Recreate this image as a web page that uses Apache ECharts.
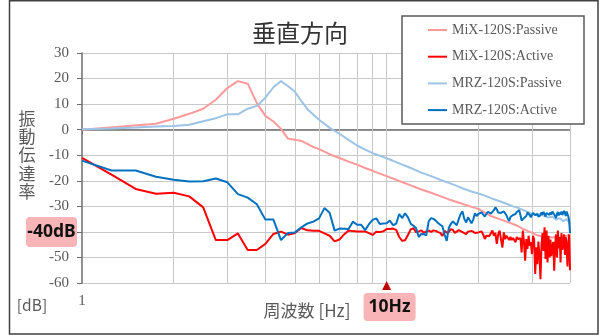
<!DOCTYPE html>
<html>
<head>
<meta charset="utf-8">
<script src="https://cdn.jsdelivr.net/npm/echarts@6/dist/echarts.min.js"></script>
<style>
  html, body { margin: 0; padding: 0; background: #fff; }
  #chart { width: 600px; height: 336px; }
</style>
</head>
<body>
<div id="chart"></div>
<script>
// Vertical gridlines of the logarithmic frequency axis (Hz)
const gridHz = [2, 3, 4, 5, 6, 7, 8, 9, 10, 20, 30, 40];

// MiX-120S passive transmissibility (dB)
const mixPassiveHz = [1, 1.75, 2, 2.25, 2.5, 2.75, 3, 3.25, 3.5, 3.75, 4, 4.25, 4.5, 4.75, 5, 5.25, 5.5, 5.75, 6, 6.5,
  7, 7.5, 8, 8.5, 9, 9.5, 10, 11, 12, 13, 14, 15, 16, 17, 18, 19, 20, 21, 22, 23, 24, 25, 26, 27, 28, 29, 30,
  31, 32, 33, 34, 35, 36, 37, 38, 39, 40];
const mixPassiveDb = [0, 2.3, 4.3, 6.2, 8.2, 11.7, 16.3, 19.0, 18.0, 10.4, 5.4, 3.2, 0.3, -3.6, -3.9, -4.4, -5.6, -6.8, -7.6, -9.6,
  -11.1, -12.5, -13.7, -15.0, -16.1, -17.2, -18.2, -20.1, -21.8, -23.4, -24.7, -26.0, -27.3, -28.3, -29.3, -30.2, -31.0,
  -32.5, -33.8, -34.6, -35.4, -36.2, -36.9, -37.7, -38.8, -39.6, -40.3,
  -41.2, -41.6, -41.8, -42.0, -42.2, -42.0, -42.3, -41.8, -41.5, -41.2];

// MRZ-120S passive transmissibility (dB)
const mrzPassiveHz = [1, 1.25, 1.5, 1.75, 2, 2.25, 2.5, 2.75, 3, 3.25, 3.5, 3.75, 4, 4.25, 4.5, 4.75, 5, 5.25, 5.5, 5.75,
  6, 6.25, 6.5, 6.75, 7, 7.5, 8, 8.5, 9, 9.5, 10, 11, 12, 13, 14, 15, 16, 17, 18, 19, 20, 21, 22, 23, 24, 25,
  26, 27, 28, 29, 30, 31, 32, 33, 34, 35, 36, 37, 38, 39, 40];
const mrzPassiveDb = [0.2, 0.5, 0.8, 1.2, 1.4, 1.9, 3.3, 4.5, 6.0, 6.0, 8.2, 9.3, 12.5, 16.6, 19.0, 17.0, 14.8, 11.2, 8.0, 5.8,
  3.9, 2.3, 0.7, -0.5, -1.6, -4.0, -6.2, -7.8, -9.2, -10.2, -11.2, -13.2, -15.0, -16.8, -18.2, -19.6, -20.8, -22.0,
  -23.2, -24.2, -25.0, -25.8, -26.8, -27.6, -28.4, -29.2, -30.0, -30.6, -31.4, -32.2, -33.0, -33.4, -33.0, -33.8,
  -34.4, -34.0, -35.2, -34.6, -35.8, -35.0, -36.8];

// Measurement frequencies of the active-isolation runs (0.25 Hz steps)
const activeHz = [
  1, 1.25, 1.5, 1.75, 2, 2.25, 2.5, 2.75, 3, 3.25, 3.5, 3.75, 4, 4.25, 4.5, 4.75, 5, 5.25, 5.5, 5.75,
  6, 6.25, 6.5, 6.75, 7, 7.25, 7.5, 7.75, 8, 8.25, 8.5, 8.75, 9, 9.25, 9.5, 9.75,
  10, 10.25, 10.5, 10.75, 11, 11.25, 11.5, 11.75, 12, 12.25, 12.5, 12.75, 13, 13.25, 13.5, 13.75,
  14, 14.25, 14.5, 14.75, 15, 15.25, 15.5, 15.75, 16, 16.25, 16.5, 16.75, 17, 17.25, 17.5, 17.75,
  18, 18.25, 18.5, 18.75, 19, 19.25, 19.5, 19.75,
  20, 20.25, 20.5, 20.75, 21, 21.25, 21.5, 21.75, 22, 22.25, 22.5, 22.75, 23, 23.25, 23.5, 23.75,
  24, 24.25, 24.5, 24.75, 25, 25.25, 25.5, 25.75, 26, 26.25, 26.5, 26.75, 27, 27.25, 27.5, 27.75,
  28, 28.25, 28.5, 28.75, 29, 29.25, 29.5, 29.75, 30, 30.25, 30.5, 30.75, 31, 31.25, 31.5, 31.75,
  32, 32.25, 32.5, 32.75, 33, 33.25, 33.5, 33.75, 34, 34.25, 34.5, 34.75, 35, 35.25, 35.5, 35.75,
  36, 36.25, 36.5, 36.75, 37, 37.25, 37.5, 37.75, 38, 38.25, 38.5, 38.75, 39, 39.25, 39.5, 39.75, 40];

// MiX-120S active transmissibility (dB)
const mixActiveDb = [
  -11.0, -17.6, -23.2, -25.1, -24.7, -26.1, -30.4, -43.2, -43.2, -40.6, -47.1, -47.1, -44.7, -40.8, -39.9, -41.1,
  -40.4, -38.5, -39.4, -39.6, -39.6, -40.6, -41.5, -43.7, -43.0, -41.0, -39.5, -39.7, -39.8, -39.8, -39.8, -40.5,
  -41.2, -39.9, -40.0, -39.8,
  -38.9, -38.9, -38.7, -39.2, -42.0, -43.5, -43.3, -41.2, -39.0, -38.6, -40.2, -39.8, -39.4, -40.3, -39.8, -39.5,
  -40.0, -39.4, -39.6, -40.1, -40.4, -41.6, -39.6, -40.3, -40.0, -38.9, -39.2, -40.4, -40.0, -39.3, -39.6, -40.1,
  -40.6, -40.9, -39.9, -40.3, -39.6, -39.8, -40.4, -40.0,
  -40.2, -40.0, -39.8, -41.0, -42.8, -41.5, -40.8, -41.6, -42.2, -39.5, -41.5, -40.4, -44.7, -41.0, -39.5, -43.0,
  -46.1, -40.2, -42.8, -41.5, -42.2, -43.2, -41.9, -43.2, -42.4, -41.8, -44.1, -42.0, -42.8, -43.5, -42.5, -48.0,
  -39.5, -44.0, -51.3, -42.8, -46.7, -41.5, -45.4, -44.0, -48.7, -41.5, -43.0, -56.5, -46.0, -52.6, -43.8, -49.0,
  -58.5, -45.0, -40.5, -47.5, -38.2, -50.6, -39.5, -52.0, -41.5, -50.0, -43.0, -49.5, -45.5, -44.0, -55.2, -45.0,
  -41.0, -50.0, -39.5, -46.5, -42.0, -52.0, -40.5, -47.0, -44.0, -41.0, -49.0, -42.0, -46.0, -53.5, -44.0, -41.0, -55.0];

// MRZ-120S active transmissibility (dB)
const mrzActiveDb = [
  -12.1, -16.0, -16.0, -18.4, -19.6, -20.3, -20.2, -19.1, -20.6, -25.2, -26.6, -29.2, -35.2, -35.2, -43.2, -40.4,
  -40.2, -38.2, -36.7, -36.0, -34.7, -30.7, -32.5, -39.5, -38.7, -38.8, -38.9, -36.0, -37.2, -37.2, -39.3, -37.0,
  -35.3, -34.7, -36.9, -36.7,
  -36.6, -35.6, -37.4, -36.8, -33.0, -34.6, -32.7, -34.3, -36.8, -37.6, -38.6, -42.0, -40.8, -40.9, -41.3, -35.8,
  -34.6, -34.9, -35.6, -36.5, -37.2, -37.8, -41.0, -43.5, -38.5, -36.9, -35.9, -36.4, -37.4, -35.0, -33.0, -32.0,
  -35.0, -36.3, -34.3, -34.8, -36.6, -35.2, -32.7, -33.8,
  -33.0, -32.6, -32.4, -33.2, -34.0, -33.0, -32.2, -31.7, -32.8, -32.4, -31.5, -30.4, -31.2, -32.4, -31.8, -32.6,
  -33.0, -32.0, -32.4, -33.5, -34.8, -35.8, -34.2, -33.6, -33.4, -32.8, -33.0, -32.2, -31.7, -31.5, -33.4, -35.6,
  -35.2, -34.6, -35.0, -33.8, -32.4, -32.0, -33.4, -34.3, -33.6, -32.6, -32.4, -33.4, -32.8, -33.0, -34.0, -34.3,
  -33.5, -32.4, -33.2, -32.2, -33.0, -34.0, -32.6, -33.0, -32.2, -33.4, -32.4, -33.2, -32.0, -31.7, -32.6, -33.8,
  -34.6, -33.0, -32.2, -33.6, -32.4, -33.2, -32.0, -33.4, -32.6, -31.8, -32.4, -33.8, -32.0, -31.7, -34.0, -35.6, -40.5];

const seriesNames = ['MiX-120S:Passive', 'MiX-120S:Active', 'MRZ-120S:Passive', 'MRZ-120S:Active'];
const seriesColors = ['#FF9999', '#FF0000', '#9DC3E6', '#0070C0'];

// Annotation values
const markFreqHz = 10;
const markLevelDb = -40;

const zip = (xs, ys) => xs.map((x, i) => [x, ys[i]]);

const chart = echarts.init(document.getElementById('chart'), null, { renderer: 'canvas' });

const GRID_GRAY = '#C8C8C8';
const AXIS_GRAY = '#6E6E6E';
const TEXT_GRAY = '#595959';
const SERIF = "'Liberation Serif', 'DejaVu Serif', serif";
const CJK = "'Noto Sans CJK JP', 'Noto Sans', sans-serif";

function lineSeries(idx, hz, db) {
  return {
    name: seriesNames[idx],
    type: 'line',
    data: zip(hz, db),
    symbol: 'none',
    showSymbol: false,
    lineStyle: { color: seriesColors[idx], width: 2 },
    itemStyle: { color: seriesColors[idx] },
    z: 2,
    animation: false
  };
}

chart.setOption({
  animation: false,
  textStyle: { fontFamily: SERIF },
  title: {
    text: '垂直方向',
    left: 'center',
    top: 16,
    textStyle: { fontFamily: CJK, fontSize: 24, fontWeight: 'normal', color: '#333333' }
  },
  grid: { left: 82, right: 30, top: 53, bottom: 53, containLabel: false },
  legend: {
    orient: 'vertical',
    left: 428,
    top: 23,
    padding: 0,
    itemGap: 12.7,
    itemWidth: 19,
    itemHeight: 14,
    icon: 'path://M0,6.5 L19,6.5 L19,8.5 L0,8.5 Z',
    selectedMode: false,
    z: 6,
    textStyle: { fontFamily: SERIF, fontSize: 14, color: TEXT_GRAY },
    data: seriesNames
  },
  xAxis: {
    type: 'log',
    logBase: 10,
    min: 1,
    max: 40,
    axisLine: { lineStyle: { color: AXIS_GRAY, width: 1.5 } },
    axisTick: { show: true, length: 5, lineStyle: { color: AXIS_GRAY } },
    splitLine: { show: false },
    axisLabel: {
      margin: 11,
      fontFamily: SERIF,
      fontSize: 15,
      color: TEXT_GRAY,
      formatter: v => (Math.abs(v - 1) < 1e-9 ? '1' : '')
    }
  },
  yAxis: {
    type: 'value',
    min: -60,
    max: 30,
    interval: 10,
    axisLine: { show: true, lineStyle: { color: AXIS_GRAY, width: 1.5 } },
    axisTick: { show: true, length: 5, lineStyle: { color: AXIS_GRAY } },
    splitLine: { show: true, lineStyle: { color: GRID_GRAY, width: 1 } },
    axisLabel: { margin: 13, fontFamily: SERIF, fontSize: 15, color: TEXT_GRAY }
  },
  series: [
    {
      name: 'vgrid',
      type: 'line',
      data: [],
      silent: true,
      z: 1,
      markLine: {
        silent: true,
        symbol: ['none', 'none'],
        z: 1,
        animation: false,
        label: { show: false },
        lineStyle: { color: GRID_GRAY, width: 1, type: 'solid' },
        data: gridHz.map(v => ({ xAxis: v }))
      }
    },
    lineSeries(0, mixPassiveHz, mixPassiveDb),
    lineSeries(1, activeHz, mixActiveDb),
    lineSeries(2, mrzPassiveHz, mrzPassiveDb),
    lineSeries(3, activeHz, mrzActiveDb)
  ]
});

// Annotations placed through the axes' own scales
const x10 = chart.convertToPixel({ xAxisIndex: 0 }, markFreqHz);
const y40 = chart.convertToPixel({ yAxisIndex: 0 }, markLevelDb);
const yBottom = chart.convertToPixel({ yAxisIndex: 0 }, -60);

chart.setOption({
  graphic: [
    // outer frame
    { type: 'rect', z: 20, silent: true,
      shape: { x: 9.5, y: 0.75, width: 588.5, height: 333.25 },
      style: { fill: 'none', stroke: '#404040', lineWidth: 1.5 } },
    // legend box
    { type: 'rect', z: 4, silent: true,
      shape: { x: 402, y: 16, width: 182, height: 108 },
      style: { fill: '#ffffff', stroke: '#595959', lineWidth: 1.5 } },
    // axis names
    { type: 'text', z: 10, silent: true, x: 27, y: 109,
      style: { text: '振\n動\n伝\n達\n率', fontFamily: CJK, fontSize: 17, lineHeight: 18.4,
               fill: TEXT_GRAY, align: 'center', verticalAlign: 'top' } },
    { type: 'text', z: 10, silent: true, x: 32, y: 305,
      style: { text: '[dB]', fontFamily: CJK, fontSize: 15.5, fill: TEXT_GRAY,
               align: 'center', verticalAlign: 'middle' } },
    { type: 'text', z: 10, silent: true, x: 307, y: 311,
      style: { text: '周波数 [Hz]', fontFamily: CJK, fontSize: 17, fill: TEXT_GRAY,
               align: 'center', verticalAlign: 'middle' } },
    // 10 Hz marker
    { type: 'polygon', z: 12, silent: true,
      shape: { points: [[x10, yBottom - 2], [x10 - 4.5, yBottom + 7], [x10 + 4.5, yBottom + 7]] },
      style: { fill: '#C00000' } },
    { type: 'rect', z: 12, silent: true,
      shape: { x: x10 - 23, y: yBottom + 10, width: 52, height: 28, r: 4 },
      style: { fill: '#F8B4B6' } },
    { type: 'text', z: 13, silent: true, x: x10 + 3, y: yBottom + 24,
      style: { text: '10Hz', fontFamily: "'Noto Sans', 'Open Sans', sans-serif", fontWeight: 'bold',
               fontSize: 17.5, fill: '#111111', align: 'center', verticalAlign: 'middle' } },
    // -40 dB marker
    { type: 'rect', z: 12, silent: true,
      shape: { x: 26, y: y40 - 15, width: 51, height: 30, r: 4 },
      style: { fill: '#F8B4B6' } },
    { type: 'text', z: 13, silent: true, x: 51.5, y: y40,
      style: { text: '-40dB', fontFamily: "'Noto Sans', 'Open Sans', sans-serif", fontWeight: 'bold',
               fontSize: 17.5, fill: '#111111', align: 'center', verticalAlign: 'middle' } }
  ]
});
</script>
</body>
</html>
